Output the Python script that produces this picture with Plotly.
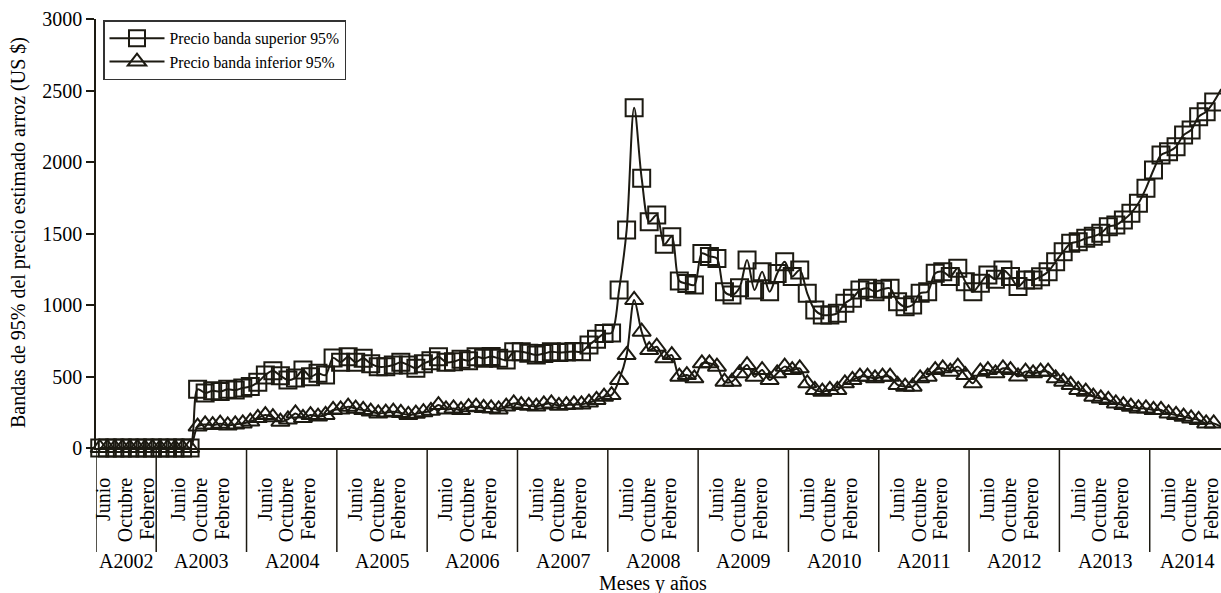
import plotly.graph_objects as go

# ---------------- data ----------------
YEARS = ["A2002", "A2003", "A2004", "A2005", "A2006", "A2007", "A2008",
         "A2009", "A2010", "A2011", "A2012", "A2013", "A2014"]
MONTHS_IN_YEAR = [8, 12, 12, 12, 12, 12, 12, 12, 12, 12, 12, 12, 10]
MONTH_LABELS = ["Junio", "Octubre", "Febrero"]

SUPERIOR = [
    0, 0, 0, 0, 0, 0, 0, 0, 0, 0, 0, 0, 0,
    410, 385, 400, 395, 410, 405, 420,
    430, 460, 510, 540, 505, 475, 490, 545, 499, 522, 510, 630,
    600, 638, 600, 627, 590, 569, 569, 580, 600, 580, 557, 590,
    610, 638, 600, 603, 620, 610, 638, 627, 640, 627, 615, 673,
    673, 662, 650, 660, 673, 668, 671, 675, 673, 720, 760, 800,
    805, 1105, 1524, 2380, 1886, 1583, 1629, 1424, 1478, 1168, 1150, 1140,
    1361, 1340, 1326, 1093, 1070, 1121, 1315, 1105, 1233, 1093, 1220, 1303,
    1200, 1245, 1082, 965, 930, 930, 942, 1012, 1047, 1105, 1117, 1093,
    1110, 1117, 1023, 988, 1000, 1082, 1093, 1222, 1233, 1200, 1257, 1163,
    1093, 1152, 1210, 1180, 1245, 1200, 1129, 1175, 1175, 1198, 1233, 1303,
    1373, 1431, 1443, 1466, 1480, 1501, 1548, 1559, 1594, 1641, 1711, 1816,
    1944, 2049, 2072, 2107, 2189, 2224, 2317, 2352, 2420, 2510,
]
INFERIOR = [
    0, 0, 0, 0, 0, 0, 0, 0, 0, 0, 0, 0, 0,
    150, 165, 160, 170, 158, 165, 172,
    185, 210, 230, 215, 184, 200, 242, 210, 230, 220, 231, 266,
    270, 289, 275, 266, 255, 242, 248, 254, 245, 231, 240, 250,
    260, 300, 270, 277, 265, 285, 289, 280, 277, 270, 290, 312,
    300, 295, 290, 305, 312, 295, 300, 305, 305, 318, 336, 359,
    370, 476, 650, 1035, 813, 685, 708, 627, 650, 499, 510, 487,
    592, 592, 569, 464, 464, 522, 580, 499, 545, 476, 522, 569,
    545, 557, 452, 406, 394, 406, 406, 452, 476, 499, 499, 487,
    499, 499, 441, 429, 429, 487, 499, 545, 557, 534, 569, 510,
    452, 534, 545, 522, 557, 545, 500, 534, 522, 534, 534, 487,
    464, 441, 406, 394, 359, 347, 336, 312, 300, 289, 277, 277,
    266, 266, 242, 231, 219, 207, 196, 172, 172, 149,
]
Y_TICKS = [0, 500, 1000, 1500, 2000, 2500, 3000]

# ---------------- layout constants ----------------
W, H = 1221, 593
ML, MR, MT, MB = 96, 0, 19, 145
PW, PH = W - ML - MR, H - MT - MB
FONT = "Liberation Serif, Times New Roman, serif"
INK = "#1c1a12"
XMAX = 148.97

# label offsets inside each year group (category units)
LABEL_OFFSETS = {0: [0.55, 3.45, 6.3], 1: [2.45, 5.35, 8.25]}
DEFAULT_OFFSETS = [2.0, 4.85, 7.75]

x_idx = list(range(len(SUPERIOR)))

starts = []
s = 0
for n in MONTHS_IN_YEAR:
    starts.append(s)
    s += n

tickvals, ticktext = [], []
for g, st in enumerate(starts):
    for off, lab in zip(LABEL_OFFSETS.get(g, DEFAULT_OFFSETS), MONTH_LABELS):
        tickvals.append(st + off)
        ticktext.append(lab)

fig = go.Figure()
fig.add_trace(go.Scatter(
    x=x_idx, y=SUPERIOR, name="Precio banda superior 95%",
    mode="lines+markers", cliponaxis=False,
    line=dict(color=INK, width=2, shape="spline", smoothing=0.9),
    marker=dict(symbol="square-open", size=17, color=INK, line=dict(width=2, color=INK)),
))
fig.add_trace(go.Scatter(
    x=x_idx, y=INFERIOR, name="Precio banda inferior 95%",
    mode="lines+markers", cliponaxis=False,
    line=dict(color=INK, width=2, shape="spline", smoothing=0.9),
    marker=dict(symbol="triangle-up-open", size=16, color=INK, line=dict(width=2, color=INK)),
))

def px2paper_x(px):
    return (px - ML) / PW

def px2paper_y(py):
    return (MT + PH - py) / PH

shapes = []
annotations = []
for g, st in enumerate(starts):
    xb = st - 0.5
    shapes.append(dict(type="line", xref="x", yref="paper", x0=xb, x1=xb,
                       y0=0, y1=px2paper_y(552), line=dict(color=INK, width=1.5)))
    center = st - 0.5 + MONTHS_IN_YEAR[g] / 2
    annotations.append(dict(text=YEARS[g], x=center, xref="x", y=px2paper_y(561),
                            yref="paper", xanchor="center", yanchor="middle",
                            showarrow=False, font=dict(family=FONT, size=20, color="#000")))

annotations.append(dict(text="Meses y años", x=px2paper_x(653), y=px2paper_y(583),
                        xref="paper", yref="paper", xanchor="center", yanchor="middle",
                        showarrow=False, font=dict(family=FONT, size=20, color="#000")))
annotations.append(dict(text="Bandas de 95% del precio estimado arroz (US $)",
                        x=px2paper_x(18), y=px2paper_y(233), xref="paper", yref="paper",
                        xanchor="center", yanchor="middle", textangle=-90,
                        showarrow=False, font=dict(family=FONT, size=20, color="#000")))

fig.update_layout(
    width=W, height=H,
    margin=dict(l=ML, r=MR, t=MT, b=MB, pad=0),
    paper_bgcolor="white", plot_bgcolor="white",
    font=dict(family=FONT, size=20, color="#000"),
    showlegend=True,
    legend=dict(x=px2paper_x(103), y=px2paper_y(20), xanchor="left", yanchor="top",
                bgcolor="white", bordercolor="#333", borderwidth=1.5,
                font=dict(family=FONT, size=15.7, color="#000"),
                itemwidth=55, tracegroupgap=0),
    shapes=shapes, annotations=annotations,
)
fig.update_xaxes(range=[-0.5, XMAX], tickmode="array", tickvals=tickvals, ticktext=ticktext,
                 tickangle=-90, ticks="", showline=True, linecolor=INK, linewidth=1.5,
                 showgrid=False, zeroline=False, ticklabelstandoff=20,
                 ticklabeloverflow="allow",
                 tickfont=dict(family=FONT, size=20, color="#000"))
fig.update_yaxes(range=[0, 3000], tickmode="array", tickvals=Y_TICKS,
                 ticks="outside", ticklen=8, tickwidth=1.5, tickcolor=INK,
                 showline=True, linecolor=INK, linewidth=1.5, showgrid=False,
                 zeroline=False, tickfont=dict(family=FONT, size=20, color="#000"))

fig.write_html("out.html", config={"displayModeBar": False},
               post_script="document.body.style.margin='0';document.body.style.overflow='hidden';")
